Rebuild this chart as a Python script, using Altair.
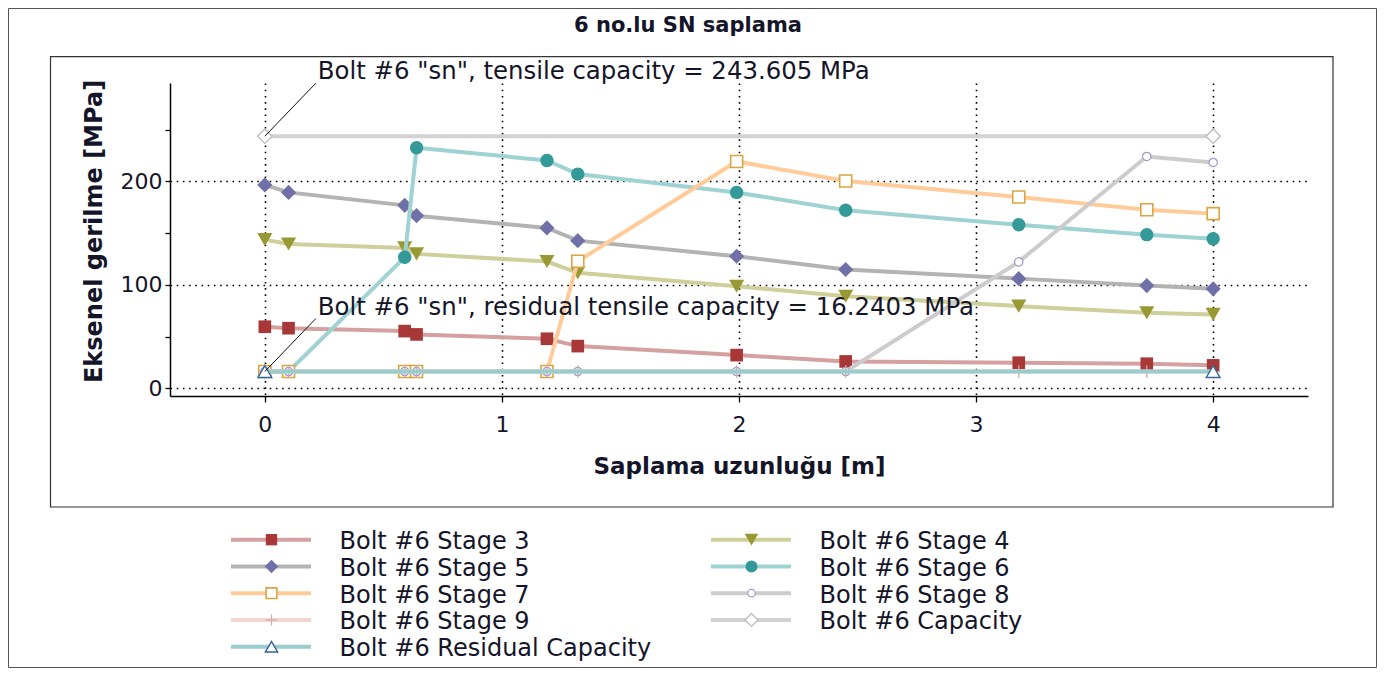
import altair as alt
import pandas as pd

FONT = "DejaVu Sans"
TXT = "#15152a"

# ---- data ----
x_pos = [0, 0.1, 0.59, 0.64, 1.19, 1.32, 1.99, 2.45, 3.18, 3.72, 4.0]
stage3 = [59.5, 58.1, 55.3, 52.1, 47.9, 40.8, 32.1, 26.0, 24.8, 23.8, 22.2]
stage4 = [143.7, 139.5, 135.7, 129.9, 122.5, 111.6, 98.6, 89.0, 79.4, 73.0, 71.4]
stage5 = [196.5, 189.3, 176.8, 166.8, 155.0, 142.7, 127.6, 114.8, 106.0, 99.3, 96.1]
stage6 = [16.24, 16.24, 126.6, 232.4, 220.2, 207.0, 189.3, 172.0, 158.1, 148.5, 144.6]
stage7 = [16.24, 16.24, 16.24, 16.24, 16.24, 122.8, 219.2, 200.3, 184.9, 172.6, 168.8]
stage8 = [16.24, 16.24, 16.24, 16.24, 16.24, 16.24, 16.24, 16.24, 122.2, 224.0, 218.2]
stage9 = [16.24, 16.24, 16.24, 16.24, 16.24, 16.24, 16.24, 16.24, 16.24, 16.24, 16.24]
end_pos = [0, 4]
capacity = [243.605, 243.605]
residual = [16.2403, 16.2403]

names = ["Bolt #6 Stage 3", "Bolt #6 Stage 4", "Bolt #6 Stage 5", "Bolt #6 Stage 6",
         "Bolt #6 Stage 7", "Bolt #6 Stage 8", "Bolt #6 Stage 9", "Bolt #6 Capacity",
         "Bolt #6 Residual Capacity"]
values = [stage3, stage4, stage5, stage6, stage7, stage8, stage9, capacity, residual]
xs_all = [x_pos] * 7 + [end_pos, end_pos]

ann_labels = ['Bolt #6 "sn", tensile capacity = 243.605 MPa',
              'Bolt #6 "sn", residual tensile capacity = 16.2403 MPa']
ann_x = [0, 0]
ann_y = [243.605, 16.2403]

chart_title = "6 no.lu SN saplama"
x_title = "Saplama uzunluğu [m]"
y_title = "Eksenel gerilme [MPa]"
x_ticks = [0, 0.5, 1, 1.5, 2, 2.5, 3, 3.5, 4]
y_ticks = [0, 50, 100, 150, 200, 250]

# ---- styles ----
CROSS = "M-1,0L1,0M0,-1L0,1"
styles = [
    dict(line="#d4a0a0", shape="square", fill="#a83838", stroke="#a83838", sw=0, size=160),
    dict(line="#cfcf9c", shape="triangle-down", fill="#999933", stroke="#999933", sw=0, size=230),
    dict(line="#b3b3b3", shape="diamond", fill="#7070a8", stroke="#7070a8", sw=0, size=230),
    dict(line="#9fd2d2", shape="circle", fill="#339999", stroke="#339999", sw=0, size=180),
    dict(line="#ffcc99", shape="square", fill="white", stroke="#d9a441", sw=1.6, size=144),
    dict(line="#cccccc", shape="circle", fill="white", stroke="#9999cc", sw=1.2, size=70),
    dict(line="#f2d5cc", shape=CROSS, fill="white", stroke="#d4a8a8", sw=1.3, size=160),
    dict(line="#d2d2d2", shape="diamond", fill="white", stroke="#bbbbbb", sw=1.3, size=210),
    dict(line="#99cccc", shape="triangle-up", fill="white", stroke="#336699", sw=1.4, size=190),
]

W, H = 1138, 313

X = alt.X("x:Q", title=x_title,
          scale=alt.Scale(domain=[-0.4, 4.4], nice=False, zero=False),
          axis=alt.Axis(values=x_ticks, format="d",
                        labelExpr="datum.value % 1 == 0 ? datum.label : ''",
                        gridOpacity={"condition": {"test": "datum.value % 1 != 0", "value": 0}, "value": 1},
                        titlePadding=20))
Y = alt.Y("y:Q", title=y_title,
          scale=alt.Scale(domain=[-7.4, 295], nice=False, zero=False),
          axis=alt.Axis(values=y_ticks, format="d",
                        labelExpr="datum.value % 100 == 0 ? datum.label : ''",
                        gridOpacity={"condition": {"test": "datum.value % 100 != 0", "value": 0}, "value": 1},
                        titlePadding=14, titleY=148))

one = pd.DataFrame({"a": [0]})
layers = []

# frames (decoration)
layers.append(alt.Chart(one).mark_rect(fillOpacity=0, stroke="#555555", strokeWidth=1).encode(
    x=alt.value(-161.5), x2=alt.value(W + 68.5), y=alt.value(-74.5), y2=alt.value(H + 271.5)))
layers.append(alt.Chart(one).mark_rect(fillOpacity=0, stroke="#333333", strokeWidth=1.2).encode(
    x=alt.value(-119.5), x2=alt.value(1163), y=alt.value(-26.3), y2=alt.value(424)))

# title
layers.append(alt.Chart(pd.DataFrame({"t": [chart_title]})).mark_text(
    font=FONT, fontSize=21, fontWeight="bold", color=TXT, align="center", baseline="alphabetic").encode(
    x=alt.value(518), y=alt.value(-51.5), text="t:N"))

# series
for xs, ys, st in zip(xs_all, values, styles):
    df = pd.DataFrame({"x": xs, "y": ys})
    layers.append(alt.Chart(df).mark_line(color=st["line"], strokeWidth=4).encode(x=X, y=Y))
    layers.append(alt.Chart(df).mark_point(shape=st["shape"], fill=st["fill"], stroke=st["stroke"],
                                           strokeWidth=st["sw"], size=st["size"], opacity=1,
                                           fillOpacity=1).encode(x=X, y=Y))

# annotations
ann = pd.DataFrame({"x": ann_x, "y": ann_y, "label": ann_labels})
layers.append(alt.Chart(ann).mark_rule(color="#111111", strokeWidth=1, x2Offset=51, y2Offset=-53).encode(
    x=X, y=Y, x2=alt.X2("x"), y2=alt.Y2("y")))
layers.append(alt.Chart(ann).mark_text(font=FONT, fontSize=24.4, color=TXT, align="left",
                                       baseline="alphabetic", dx=53, dy=-57).encode(
    x=X, y=Y, text="label:N"))

# legend (two columns, row-major)
for i, (name, st) in enumerate(zip(names, styles)):
    col, row = i % 2, i // 2
    x0 = 61 + col * 480
    ly = 456.7 + row * 26.75
    layers.append(alt.Chart(one).mark_rule(color=st["line"], strokeWidth=4).encode(
        x=alt.value(x0), x2=alt.value(x0 + 80), y=alt.value(ly)))
    layers.append(alt.Chart(one).mark_point(shape=st["shape"], fill=st["fill"], stroke=st["stroke"],
                                            strokeWidth=st["sw"], size=st["size"] * 0.8, opacity=1,
                                            fillOpacity=1).encode(
        x=alt.value(x0 + 40.5), y=alt.value(ly)))
    layers.append(alt.Chart(pd.DataFrame({"t": [name]})).mark_text(
        font=FONT, fontSize=24, color=TXT, align="left", baseline="alphabetic").encode(
        x=alt.value(x0 + 108.5), y=alt.value(ly + 9.3), text="t:N"))

chart = alt.layer(*layers).properties(
    width=W, height=H,
    autosize=alt.AutoSizeParams(type="none"),
    padding={"left": 162, "top": 75, "right": 69, "bottom": 272},
    background="white",
).configure_view(strokeWidth=0).configure_axis(
    labelFont=FONT, titleFont=FONT, labelColor=TXT, titleColor=TXT,
    labelFontSize=22, titleFontSize=23, titleFontWeight="bold",
    domainColor="#000000", domainWidth=1.5, tickColor="#000000", tickWidth=1.3, tickSize=6,
    gridColor="#000000", gridDash=[1.6, 4.6], gridWidth=1.6,
).configure_axisX(labelPadding=12).configure_axisY(labelPadding=3, tickSize=5, titleFontSize=24)

chart.save("out.html", embed_options={"renderer": "svg", "actions": False})
